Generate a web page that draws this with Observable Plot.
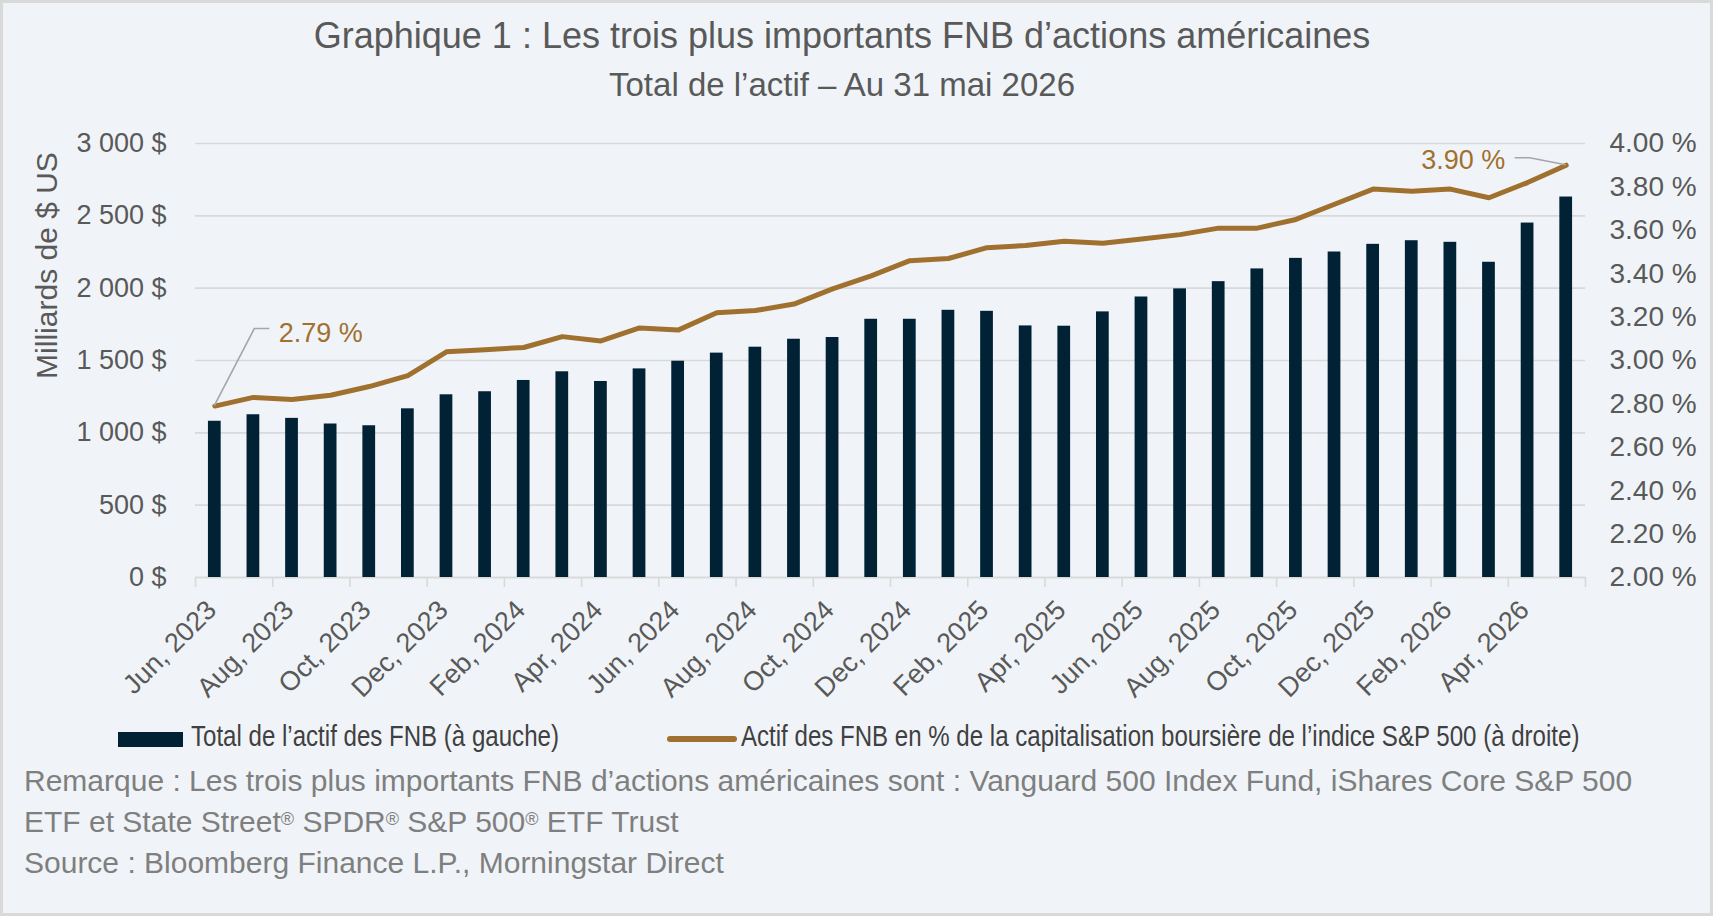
<!DOCTYPE html>
<html lang="fr">
<head>
<meta charset="utf-8">
<script src="https://cdn.jsdelivr.net/npm/d3@7"></script>
<script src="https://cdn.jsdelivr.net/npm/@observablehq/plot@0.6"></script>
<style>
  body { margin: 0; background: #ffffff; }
  #chart {
    position: relative; width: 1713px; height: 916px; overflow: hidden;
    background: #F0F4F8; box-shadow: inset 0 0 0 3px #D9D9D9;
    font-family: "Liberation Sans", Arial, sans-serif;
  }
  .title, .subtitle { position: absolute; left: 0; width: 1684px; text-align: center; color: #595959; white-space: nowrap; line-height: 1; }
  .title { top: 18px; font-size: 36px; }
  .subtitle { top: 68px; font-size: 33px; }
  #plot { position: absolute; left: 0; top: 100px; }
  .legend-item {
    position: absolute; font-size: 29px; line-height: 1; color: #404040; white-space: nowrap;
    transform: scaleX(0.83); transform-origin: 0 0;
  }
  .sw-bar { position: absolute; left: 118px; top: 732px; width: 65px; height: 15px; background: #012235; }
  .sw-line { position: absolute; left: 667px; top: 736px; width: 70px; height: 6px; border-radius: 3px; background: #A0702F; }
  .notes { position: absolute; left: 24px; top: 760px; font-size: 30px; line-height: 41px; color: #7F7F7F; white-space: nowrap; }
  .reg { font-size: 0.6em; vertical-align: 0.4em; line-height: 0; }
</style>
</head>
<body>
<div id="chart">
  <div class="title">Graphique 1 : Les trois plus importants FNB d’actions américaines</div>
  <div class="subtitle">Total de l’actif – Au 31 mai 2026</div>
  <div id="plot"></div>
  <div class="sw-bar"></div>
  <div class="legend-item" style="left:191px; top:722px;">Total de l’actif des FNB (à gauche)</div>
  <div class="sw-line"></div>
  <div class="legend-item" style="left:741px; top:722px;">Actif des FNB en % de la capitalisation boursière de l’indice S&amp;P 500 (à droite)</div>
  <div class="notes">Remarque : Les trois plus importants FNB d’actions américaines sont : Vanguard 500 Index Fund, iShares Core S&amp;P 500<br>ETF et State Street<span class="reg">®</span> SPDR<span class="reg">®</span> S&amp;P 500<span class="reg">®</span> ETF Trust<br>Source : Bloomberg Finance L.P., Morningstar Direct</div>
</div>
<script>
// Month-end observations, June 2023 to May 2026
const months = [
  "Jun, 2023", "Jul, 2023", "Aug, 2023", "Sep, 2023", "Oct, 2023", "Nov, 2023", "Dec, 2023",
  "Jan, 2024", "Feb, 2024", "Mar, 2024", "Apr, 2024", "May, 2024", "Jun, 2024", "Jul, 2024",
  "Aug, 2024", "Sep, 2024", "Oct, 2024", "Nov, 2024", "Dec, 2024",
  "Jan, 2025", "Feb, 2025", "Mar, 2025", "Apr, 2025", "May, 2025", "Jun, 2025", "Jul, 2025",
  "Aug, 2025", "Sep, 2025", "Oct, 2025", "Nov, 2025", "Dec, 2025",
  "Jan, 2026", "Feb, 2026", "Mar, 2026", "Apr, 2026", "May, 2026"
];

// Total assets of the three ETFs, billions of US dollars (left axis)
const assets = [
  1080, 1125, 1100, 1061, 1049, 1166, 1263, 1284, 1362, 1422, 1355, 1442,
  1495, 1551, 1592, 1647, 1659, 1785, 1785, 1847, 1840, 1739, 1737, 1836,
  1939, 1995, 2045, 2133, 2206, 2250, 2303, 2328, 2317, 2179, 2450, 2630
];

// ETF assets as % of S&P 500 market capitalisation (right axis)
const share = [
  2.79, 2.83, 2.82, 2.84, 2.88, 2.93, 3.04, 3.05, 3.06, 3.11, 3.09, 3.15,
  3.14, 3.22, 3.23, 3.26, 3.33, 3.39, 3.46, 3.47, 3.52, 3.53, 3.55, 3.54,
  3.56, 3.58, 3.61, 3.61, 3.65, 3.72, 3.79, 3.78, 3.79, 3.75, 3.82, 3.90
];

const leftTicks = [0, 500, 1000, 1500, 2000, 2500, 3000];
const rightTicks = [2.0, 2.2, 2.4, 2.6, 2.8, 3.0, 3.2, 3.4, 3.6, 3.8, 4.0];
const labelMonths = months.filter((m, i) => i % 2 === 0);

// Right axis spans 2 %–4 % over the same height as 0–3 000 $ on the left
const shareMin = 2, shareMax = 4, assetsMax = 3000;
const shareToAxis = p => (p - shareMin) / (shareMax - shareMin) * assetsMax;
const axisToShare = v => shareMin + v / assetsMax * (shareMax - shareMin);

const rows = months.map((month, i) => ({month, assets: assets[i], share: share[i]}));
const first = rows[0], last = rows[rows.length - 1];

const NAVY = "#012235", BROWN = "#A0702F", GRID = "#D9D9D9", LEADER = "#A6A6A6";
const fmtUSD = v => d3.format(",")(v).replace(/,/g, " ") + " $";
const fmtPct = p => p.toFixed(2) + " %";

// Callout connector: starts at the data point, bends, then runs level to the label
function leader(row, bend) {
  return (index, scales) => {
    const x0 = scales.x(row.month) + scales.x.bandwidth() / 2;
    const y0 = scales.y(shareToAxis(row.share));
    const path = d3.path();
    path.moveTo(x0, y0);
    path.lineTo(x0 + bend[0][0], y0 + bend[0][1]);
    path.lineTo(x0 + bend[1][0], y0 + bend[1][1]);
    const el = document.createElementNS("http://www.w3.org/2000/svg", "path");
    el.setAttribute("d", path.toString());
    el.setAttribute("fill", "none");
    el.setAttribute("stroke", LEADER);
    el.setAttribute("stroke-width", "1.6");
    return el;
  };
}

const W = 1713, H = 620;
const chart = Plot.plot({
  width: W,
  height: H,
  marginLeft: 195,
  marginRight: W - 1585,
  marginTop: 43,
  marginBottom: 143,
  style: {background: "transparent", color: "#595959", fontFamily: "'Liberation Sans', Arial, sans-serif", overflow: "visible"},
  x: {type: "band", domain: months, paddingInner: 0.67, paddingOuter: 0.335, round: false},
  y: {domain: [0, assetsMax]},
  marks: [
    Plot.ruleY(leftTicks.slice(1), {stroke: GRID, strokeWidth: 1.6}),
    Plot.ruleY([0], {stroke: GRID, strokeWidth: 2}),
    Plot.barY(rows, {x: "month", y: "assets", fill: NAVY}),
    Plot.line(rows, {x: "month", y: d => shareToAxis(d.share), stroke: BROWN, strokeWidth: 5, strokeLinecap: "round", strokeLinejoin: "round"}),
    // tick marks between every second month, plus the closing one
    Plot.axisX(labelMonths, {anchor: "bottom", tickSize: 10, tickFormat: () => "", stroke: GRID, strokeWidth: 1.6, dx: -19.3, label: null}),
    Plot.axisX([last.month], {anchor: "bottom", tickSize: 10, tickFormat: () => "", stroke: GRID, strokeWidth: 1.6, dx: 19.3, label: null}),
    Plot.axisX(labelMonths, {anchor: "bottom", tickSize: 0, tickPadding: 28, tickRotate: -45, fontSize: 27, dx: -3, label: null}),
    Plot.axisY(leftTicks, {anchor: "left", tickSize: 0, tickPadding: 29, tickFormat: fmtUSD, fontSize: 27, label: null}),
    Plot.axisY(rightTicks.map(shareToAxis), {anchor: "right", tickSize: 0, tickPadding: 24, tickFormat: v => fmtPct(axisToShare(v)), fontSize: 28, label: null}),
    Plot.text(["Milliards de $ US"], {text: d => d, frameAnchor: "top-left", dx: -148, dy: 122, rotate: -90, textAnchor: "middle", lineAnchor: "middle", fontSize: 30, fill: "#595959"}),
    leader(first, [[40, -77], [55, -77]]),
    leader(last, [[-36, -7], [-51, -7]]),
    Plot.text([first], {x: "month", y: d => shareToAxis(d.share), text: d => fmtPct(d.share), dx: 64, dy: -73, textAnchor: "start", fill: BROWN, fontSize: 27}),
    Plot.text([last], {x: "month", y: d => shareToAxis(d.share), text: d => fmtPct(d.share), dx: -61, dy: -5, textAnchor: "end", fill: BROWN, fontSize: 27})
  ]
});
document.getElementById("plot").appendChild(chart);
</script>
</body>
</html>
